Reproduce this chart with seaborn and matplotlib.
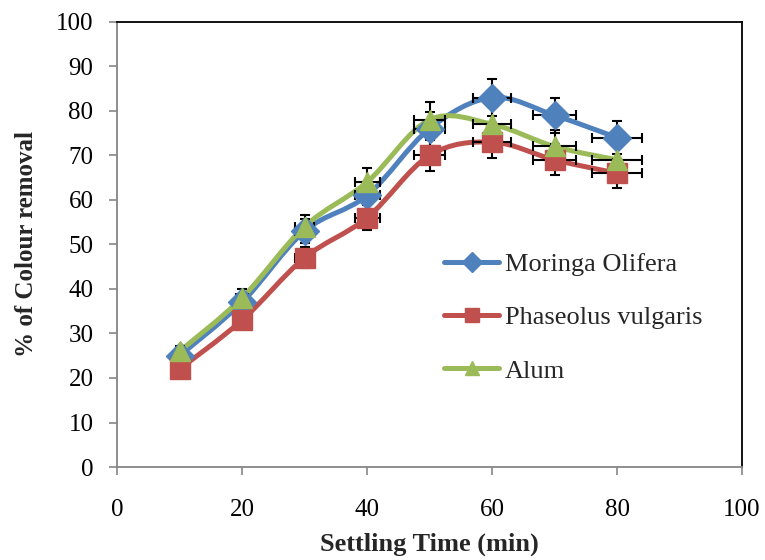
import numpy as np
import pandas as pd
import seaborn as sb
import matplotlib.pyplot as plt
from matplotlib.path import Path
from matplotlib.patches import PathPatch
from matplotlib.lines import Line2D

# data
time = [10, 20, 30, 40, 50, 60, 70, 80]
moringa = [25, 37, 53, 61, 76, 83, 79, 74]
phaseolus = [22, 33, 47, 56, 70, 73, 69, 66]
alum = [26, 38, 54, 64, 78, 77, 72, 69]
names = ["Moringa Olifera", "Phaseolus vulgaris", "Alum"]
colors = ["#4F81BD", "#C0504D", "#9BBB59"]
markers = ["D", "s", "^"]
err_pct = 0.05  # error bars, 5% of the value on both axes

df = pd.DataFrame({"time": time * 3,
                   "removal": moringa + phaseolus + alum,
                   "coagulant": np.repeat(names, len(time))})

sb.set_theme(style="ticks")
plt.rcParams["font.family"] = ["Liberation Serif", "DejaVu Serif"]

fig = plt.figure(figsize=(7.65, 5.6), dpi=100)
ax = fig.add_axes([0.153, 0.166, 0.817, 0.795])


def smooth_path(xs, ys):
    # excel style smoothed line: cubic bezier through the points
    pts = np.column_stack([xs, ys]).astype(float)
    ext = np.vstack([pts[0], pts, pts[-1]])
    verts = [pts[0]]
    codes = [Path.MOVETO]
    for i in range(1, len(ext) - 2):
        p0, p1, p2, p3 = ext[i - 1], ext[i], ext[i + 1], ext[i + 2]
        verts += [p1 + (p2 - p0) / 6, p2 - (p3 - p1) / 6, p2]
        codes += [Path.CURVE4] * 3
    return Path(verts, codes)


for name, col in zip(names, colors):
    sub = df[df["coagulant"] == name]
    ax.add_patch(PathPatch(smooth_path(sub["time"], sub["removal"]),
                           facecolor="none", edgecolor=col, lw=3.6,
                           capstyle="round", joinstyle="round", zorder=2))

for name in names:
    sub = df[df["coagulant"] == name]
    ax.errorbar(sub["time"], sub["removal"],
                xerr=sub["time"] * err_pct, yerr=sub["removal"] * err_pct,
                fmt="none", ecolor="black", elinewidth=1.5, capsize=3.8,
                capthick=1.5, zorder=2.5)

for name, col, m in zip(names, colors, markers):
    sub = df[df["coagulant"] == name]
    ax.plot(sub["time"], sub["removal"], linestyle="none", marker=m,
            markersize=14.5, color=col, zorder=3)

ax.set_xlim(0, 100)
ax.set_ylim(0, 100)
ax.set_xticks(range(0, 101, 20))
ax.set_yticks(range(0, 101, 10))
ax.tick_params(axis="both", labelsize=18, color="#868686", length=6,
               width=1.2, direction="out", labelcolor="black")
ax.tick_params(axis="x", pad=17)
ax.tick_params(axis="y", pad=11)
for s in ["left", "bottom"]:
    ax.spines[s].set_color("#868686")
for s in ["top", "right"]:
    ax.spines[s].set_color("black")
for s in ax.spines.values():
    s.set_linewidth(1.3)

ax.set_xlabel("Settling Time (min)", fontsize=19, fontweight="bold", labelpad=8)
ax.set_ylabel("% of Colour removal", fontsize=18, fontweight="bold", labelpad=13)

handles = [Line2D([0], [0], color=c, lw=3.6, marker=m, markersize=10)
           for c, m in zip(colors, markers)]
ax.legend(handles, names, loc="upper left", bbox_to_anchor=(0.523, 0.482),
          frameon=False, fontsize=19, handlelength=2.1, labelspacing=1.13,
          handletextpad=0.2, borderpad=0, borderaxespad=0)

fig.savefig("out.png", dpi=100)
